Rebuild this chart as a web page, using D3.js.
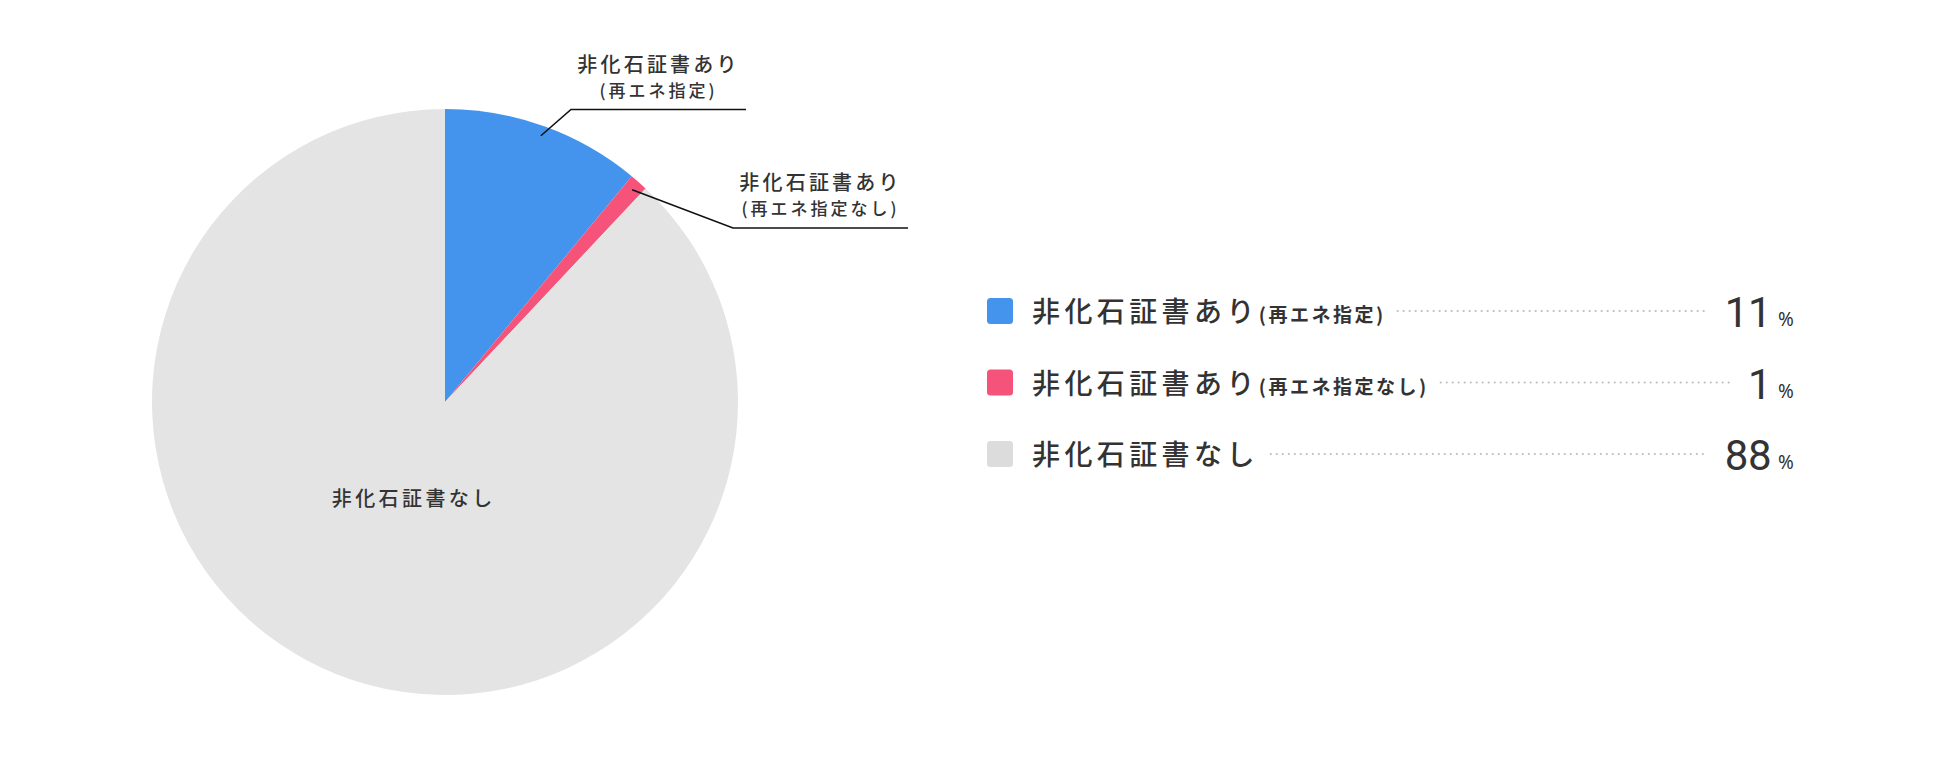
<!DOCTYPE html>
<html>
<head>
<meta charset="utf-8">
<script src="https://cdn.jsdelivr.net/npm/d3@7"></script>
<style>
  html, body { margin: 0; padding: 0; background: #fff; }
  svg { display: block; }
  text { font-family: "Noto Sans CJK JP", "Noto Sans", sans-serif; fill: #333; }
</style>
</head>
<body>
<svg id="chart" width="1940" height="766"></svg>
<script>
// ---- data ----
const categories = ["非化石証書あり", "非化石証書あり", "非化石証書なし"];
const subLabels = ["(再エネ指定)", "(再エネ指定なし)", ""];
const values = [11, 1, 88];
const colors = ["#4493ED", "#F5537A", "#E4E4E4"];
const legendColors = ["#4493ED", "#F5537A", "#DCDCDC"];
const unit = "%";

// ---- layout ----
const W = 1940, H = 766;
const cx = 445, cy = 402, R = 293;
// leader elbow offsets (relative to pie centre) for outside labels
const leaderElbow = [[126, -292.5], [288, -174], null];
const leaderLen = 175;

const svg = d3.select("#chart");
const data = categories.map((c, i) => ({ name: c, sub: subLabels[i], value: values[i], color: colors[i], lcolor: legendColors[i] }));

const pie = d3.pie().sort(null).value(d => d.value);
const arcs = pie(data);
const arc = d3.arc().innerRadius(0).outerRadius(R);

const g = svg.append("g").attr("transform", `translate(${cx},${cy})`);
g.selectAll("path.slice").data(arcs).join("path")
  .attr("class", "slice")
  .attr("d", arc)
  .attr("fill", d => d.data.color);

// outside labels with leader lines
arcs.forEach((a, i) => {
  const el = leaderElbow[i];
  const mid = (a.startAngle + a.endAngle) / 2;
  if (el) {
    const r0 = R - 10;
    const sx = Math.sin(mid) * r0, sy = -Math.cos(mid) * r0;
    g.append("path")
      .attr("d", d3.line()([[sx, sy], el, [el[0] + leaderLen, el[1]]]))
      .attr("fill", "none").attr("stroke", "#111").attr("stroke-width", 1.6);
    const tx = el[0] + leaderLen / 2;
    g.append("text").attr("x", tx).attr("y", el[1] - 38)
      .attr("text-anchor", "middle").style("font-size", "20px").style("font-weight", 500)
      .style("letter-spacing", "3.2px").text(a.data.name);
    g.append("text").attr("x", tx).attr("y", el[1] - 13)
      .attr("text-anchor", "middle").style("font-size", "17px").style("font-weight", 500)
      .style("letter-spacing", "3px").text(a.data.sub);
  } else {
    const r1 = R * 0.355;
    const lx = Math.sin(mid) * r1 + 7, ly = -Math.cos(mid) * r1;
    g.append("text").attr("x", lx).attr("y", ly + 7)
      .attr("text-anchor", "middle").style("font-size", "20px").style("font-weight", 500)
      .style("letter-spacing", "3.4px").text(a.data.name);
  }
});

// ---- legend ----
const lgX = 987, lgY0 = 311, lgStep = 71.5, sq = 26;
const numRight = 1771, pctX = 1778;
const lg = svg.append("g");
data.forEach((d, i) => {
  const y = lgY0 + i * lgStep;
  const row = lg.append("g");
  row.append("rect").attr("x", lgX).attr("y", y - sq / 2).attr("width", sq).attr("height", sq)
    .attr("rx", 3.5).attr("fill", d.lcolor);
  const t = row.append("text").attr("x", lgX + 45).attr("y", y + 11)
    .style("font-size", "28px").style("font-weight", 500).style("letter-spacing", "4.4px");
  t.append("tspan").text(d.name);
  if (d.sub) {
    t.append("tspan").attr("dx", 0).style("font-size", "19px").style("font-weight", 700)
      .style("letter-spacing", "2.5px").text(d.sub);
  }
  const textEnd = lgX + 45 + t.node().getComputedTextLength();
  const num = row.append("text").attr("x", numRight).attr("y", y + 16)
    .attr("text-anchor", "end")
    .style("font-family", "Roboto, 'Noto Sans', sans-serif")
    .style("font-size", "42px").style("font-weight", 400)
    .style("letter-spacing", "-0.5px")
    .text(d.value);
  row.append("text").attr("x", pctX).attr("y", y + 15)
    .style("font-family", "'Noto Sans', sans-serif")
    .style("font-size", "19px").style("font-weight", 400).text(unit);
  const numStart = numRight - num.node().getComputedTextLength();
  row.append("line")
    .attr("x1", textEnd + 12).attr("x2", numStart - 18)
    .attr("y1", y).attr("y2", y)
    .attr("stroke", "#BDBDBD").attr("stroke-width", 2.2)
    .attr("stroke-linecap", "round").attr("stroke-dasharray", "0,6");
});
</script>
</body>
</html>
